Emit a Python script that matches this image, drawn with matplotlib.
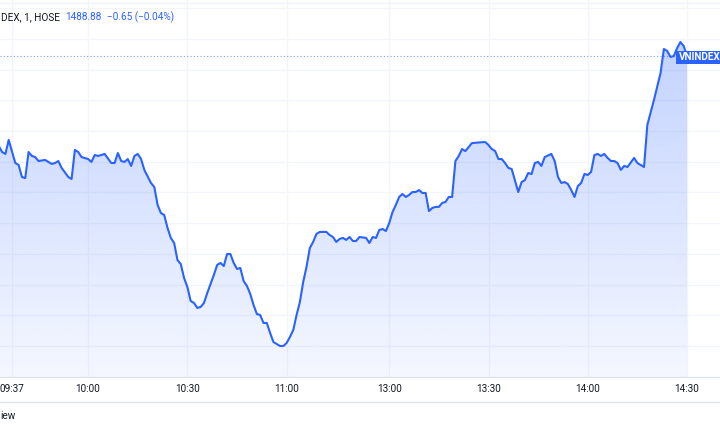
import numpy as np
import matplotlib.pyplot as plt
from matplotlib.lines import Line2D
from matplotlib.patches import Rectangle

plt.rcParams['font.family'] = ['Roboto', 'DejaVu Sans']

# 1-minute closes (only the kinks of the line)
times = [
    "09:33", "09:34", "09:35", "09:36", "09:38", "09:39", "09:40", "09:41", "09:42", "09:43",
    "09:44", "09:45", "09:47", "09:49", "09:50", "09:51", "09:52", "09:54", "09:55", "09:56",
    "09:57", "09:58", "10:00", "10:01", "10:02", "10:03", "10:05", "10:07", "10:08", "10:09",
    "10:10", "10:11", "10:12", "10:13", "10:14", "10:15", "10:16", "10:17", "10:19", "10:20",
    "10:21", "10:22", "10:23", "10:24", "10:25", "10:26", "10:27", "10:28", "10:29", "10:30",
    "10:31", "10:32", "10:33", "10:34", "10:35", "10:36", "10:37", "10:38", "10:39", "10:40",
    "10:41", "10:42", "10:43", "10:44", "10:45", "10:46", "10:47", "10:48", "10:49", "10:50",
    "10:51", "10:52", "10:53", "10:54", "10:55", "10:56", "10:57", "10:58", "10:59", "11:00",
    "11:01", "11:02", "11:03", "11:04", "11:05", "11:06", "11:07", "11:08", "11:09", "11:10",
    "11:12", "11:13", "11:14", "11:15", "11:16", "11:17", "11:18", "11:19", "11:20", "11:21",
    "11:22", "11:24", "11:25", "11:26", "11:27", "11:28", "11:29", "11:30",
    "13:00", "13:01", "13:02", "13:03", "13:04", "13:05", "13:06", "13:07", "13:08", "13:09",
    "13:10", "13:11", "13:12", "13:13", "13:14", "13:15", "13:16", "13:17", "13:18", "13:19",
    "13:20", "13:21", "13:22", "13:23", "13:24", "13:25", "13:29", "13:30", "13:31", "13:32",
    "13:33", "13:34", "13:35", "13:36", "13:37", "13:39", "13:40", "13:41", "13:42", "13:43",
    "13:44", "13:45", "13:46", "13:47", "13:49", "13:50", "13:51", "13:52", "13:53", "13:54",
    "13:55", "13:56", "13:57", "13:58", "13:59", "14:00", "14:01", "14:02", "14:03", "14:04",
    "14:05", "14:06", "14:07", "14:08", "14:09", "14:10", "14:11", "14:12", "14:14", "14:15",
    "14:17", "14:18", "14:20", "14:22", "14:23", "14:24", "14:25", "14:26", "14:27", "14:28",
    "14:29", "14:30",
]
prices = [
    1483.03, 1482.64, 1482.51, 1483.42, 1481.92, 1481.79, 1481.01, 1480.94, 1482.64, 1482.38,
    1482.31, 1482.05, 1482.12, 1481.86, 1481.92, 1482.05, 1481.60, 1481.01, 1480.88, 1482.77,
    1482.64, 1482.31, 1482.18, 1481.99, 1482.44, 1482.38, 1482.51, 1481.92, 1481.92, 1482.57,
    1482.05, 1481.99, 1482.18, 1481.73, 1482.38, 1482.51, 1482.18, 1481.47, 1480.62, 1480.36,
    1479.19, 1478.66, 1478.53, 1477.69, 1477.04, 1476.71, 1475.60, 1475.34, 1474.43, 1473.84,
    1472.93, 1472.80, 1472.48, 1472.54, 1472.80, 1473.45, 1474.04, 1474.63, 1475.28, 1475.41,
    1475.21, 1475.99, 1475.99, 1475.41, 1475.02, 1475.08, 1474.23, 1473.91, 1473.39, 1472.67,
    1472.08, 1472.02, 1471.50, 1471.50, 1470.85, 1470.26, 1470.13, 1470.00, 1470.00, 1470.20,
    1470.59, 1471.04, 1472.02, 1472.87, 1474.17, 1475.15, 1476.38, 1476.78, 1477.30, 1477.43,
    1477.43, 1477.23, 1477.10, 1476.78, 1476.97, 1477.04, 1476.91, 1477.10, 1476.84, 1476.84,
    1477.10, 1477.04, 1476.71, 1477.10, 1477.04, 1477.56, 1477.62, 1477.49,
    1478.01, 1478.73, 1479.19, 1479.71, 1479.90, 1479.71, 1479.84, 1480.03, 1480.03, 1480.16,
    1479.97, 1479.97, 1478.79, 1478.99, 1479.06, 1479.06, 1479.32, 1479.38, 1479.71, 1479.71,
    1482.05, 1482.38, 1482.83, 1482.70, 1482.96, 1483.22, 1483.29, 1483.09, 1482.83, 1482.70,
    1482.18, 1482.18, 1481.92, 1481.60, 1481.53, 1480.03, 1480.68, 1480.81, 1481.27, 1481.20,
    1481.92, 1481.99, 1481.73, 1482.31, 1482.51, 1482.05, 1481.01, 1480.62, 1480.68, 1480.55,
    1480.16, 1479.71, 1480.42, 1480.62, 1481.21, 1481.14, 1481.34, 1482.44, 1482.51, 1482.38,
    1482.51, 1482.25, 1482.05, 1482.05, 1481.92, 1481.47, 1481.73, 1481.66, 1482.25, 1481.92,
    1481.66, 1484.40, 1486.03, 1487.79, 1489.35, 1489.22, 1488.83, 1488.89, 1489.41, 1489.80,
    1489.54, 1488.88,
]
tick_labels = ["09:37", "10:00", "10:30", "11:00", "13:00", "13:30", "14:00", "14:30"]
grid_prices = np.arange(1468, 1493, 2)
last_price = "1488.88"
change = "\u22120.65 (\u22120.04%)"

BLUE = '#2962ff'
TEXT = '#131722'
BORDER = '#e0e3eb'


def bar_index(t):
    # minutes after 09:00, lunch break skipped (13:00 is the bar after 11:30)
    h, m = map(int, t.split(':'))
    mins = h * 60 + m
    if mins >= 13 * 60:
        return 151 + mins - 13 * 60
    return mins - 9 * 60


x = np.array([bar_index(t) for t in times])
y = np.array(prices)

fig = plt.figure(figsize=(7.2, 4.32), dpi=100)
ax = fig.add_axes([0, 55 / 432, 1, 377 / 432])

y0, y1 = 1467.98, 1492.54

# gradient area under the line
rgb = np.array(plt.matplotlib.colors.to_rgb(BLUE))
grad = np.zeros((256, 1, 4))
grad[:, 0, :3] = rgb
grad[:, 0, 3] = np.linspace(0.28, 0.05, 256)
im = ax.imshow(grad, extent=[x[0], x[-1], y0, y.max()], aspect='auto',
               origin='upper', zorder=1)
area = ax.fill_between(x, y, y0, facecolor='none', edgecolor='none')
im.set_clip_path(area.get_paths()[0], transform=ax.transData)

ax.plot(x, y, color=BLUE, lw=1.5, zorder=3, solid_joinstyle='round')
ax.axhline(float(last_price), color=BLUE, lw=0.8, ls=(0, (1, 2)), alpha=0.6, zorder=2)

ax.set_xlim(33.37, 250.96)
ax.set_ylim(y0, y1)
ax.set_xticks([bar_index(t) for t in tick_labels])
ax.set_xticklabels(tick_labels)
ax.set_yticks(grid_prices)
ax.tick_params(axis='y', left=False, labelleft=False)
ax.tick_params(axis='x', length=0, pad=5, labelsize=7.2, labelcolor=TEXT)
ax.grid(color='#f3f5fa', lw=1, zorder=0)
ax.set_axisbelow(True)
for s in ['top', 'left', 'right']:
    ax.spines[s].set_visible(False)
ax.spines['bottom'].set_color(BORDER)

# header / legend
fig.text(1 / 720, 1 - 17 / 432, "DEX, 1, HOSE", ha='left', va='center',
         fontsize=7.2, color=TEXT)
fig.text(65 / 720, 1 - 17 / 432, last_price, ha='left', va='center',
         fontsize=7.2, color=BLUE)
fig.text(107 / 720, 1 - 17 / 432, change, ha='left', va='center',
         fontsize=7.2, color=BLUE)

# price label on the right
fig.add_artist(Rectangle((676 / 720, 1 - 64 / 432), 50 / 720, 13 / 432,
                         transform=fig.transFigure, facecolor=BLUE, edgecolor='none'))
fig.text(679 / 720, 1 - 57.5 / 432, "VNINDEX", ha='left', va='center',
         fontsize=7.2, fontweight='bold', color='white')

# borders of the time scale and the frame
fig.add_artist(Line2D([0, 1], [1 - 402 / 432] * 2, transform=fig.transFigure,
                      color=BORDER, lw=1))
fig.add_artist(Line2D([0, 1], [1 - 3 / 432] * 2, transform=fig.transFigure,
                      color='#f0f3fa', lw=1))
fig.text(0, 1 - 416 / 432, "iew", ha='left', va='center', fontsize=7.2, color=TEXT)

fig.savefig('out.png', dpi=100)
